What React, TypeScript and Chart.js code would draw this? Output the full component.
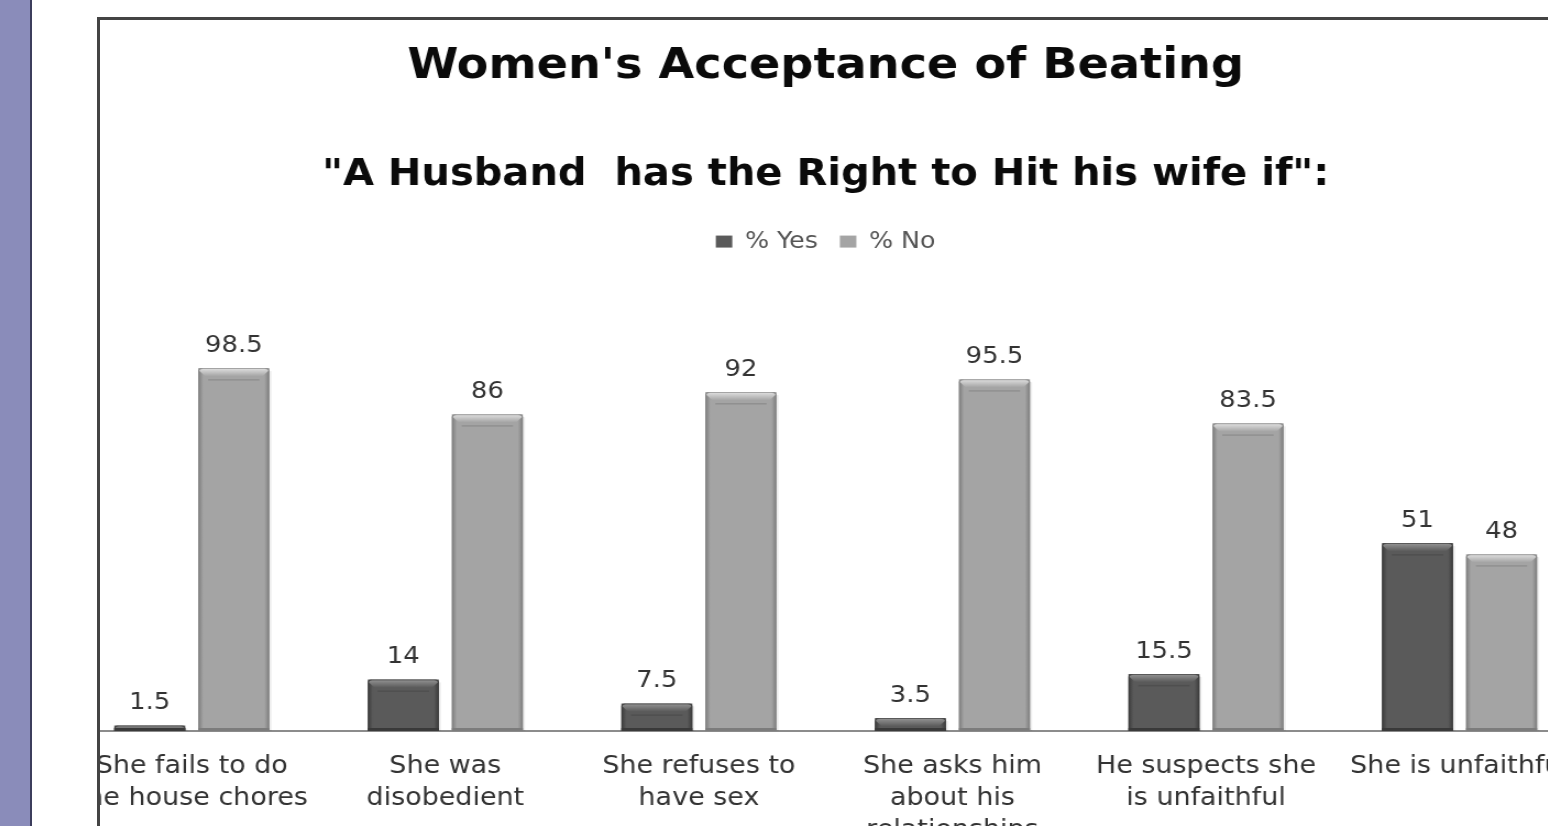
import React, { useEffect, useRef } from "react";
import { Chart, registerables } from "chart.js";

Chart.register(...registerables);

const categories: string[][] = [
  ["She fails to do", "the house chores"],
  ["She was", "disobedient"],
  ["She refuses to", "have sex"],
  ["She asks him", "about his", "relationships"],
  ["He suspects she", "is unfaithful"],
  ["She is unfaithful"],
];
const yesValues = [1.5, 14, 7.5, 3.5, 15.5, 51];
const noValues = [98.5, 86, 92, 95.5, 83.5, 48];
const seriesNames = ["% Yes", "% No"];
const titleText = "Women's Acceptance of Beating";
const subtitleText = "\"A Husband  has the Right to Hit his wife if\":";

const YES_COLOR = "#5a5a5a";
const NO_COLOR = "#a4a4a4";
const FONT = "'DejaVu Sans', Verdana, sans-serif";
const STRETCH = 1.1;
const CANVAS_W = Math.round(1521 / STRETCH);
const CANVAS_H = 847;

const bevelPlugin = {
  id: "bevel",
  afterDatasetsDraw(chart: any) {
    const ctx = chart.ctx as CanvasRenderingContext2D;
    chart.data.datasets.forEach((ds: any, di: number) => {
      const meta = chart.getDatasetMeta(di);
      const base = di === 0 ? YES_COLOR : NO_COLOR;
      const dark = di === 0 ? "#3a3a3a" : "#7c7c7c";
      const light = di === 0 ? "#969696" : "#e2e2e2";
      meta.data.forEach((bar: any) => {
        const { x, y, width, base: b } = bar.getProps(["x", "y", "width", "base"], true);
        const l = x - width / 2;
        const r = x + width / 2;
        const h = b - y;
        ctx.save();
        const g = ctx.createLinearGradient(l, 0, r, 0);
        g.addColorStop(0, dark);
        g.addColorStop(0.07, base);
        g.addColorStop(0.5, base);
        g.addColorStop(0.93, base);
        g.addColorStop(1, dark);
        ctx.fillStyle = g;
        ctx.beginPath();
        ctx.moveTo(l, b);
        ctx.lineTo(l, y + 3);
        ctx.quadraticCurveTo(l, y, l + 3, y);
        ctx.lineTo(r - 3, y);
        ctx.quadraticCurveTo(r, y, r, y + 3);
        ctx.lineTo(r, b);
        ctx.closePath();
        ctx.fill();
        // top cap highlight
        const capH = Math.min(11, h);
        const cg = ctx.createLinearGradient(0, y, 0, y + capH);
        cg.addColorStop(0, light);
        cg.addColorStop(0.75, base);
        cg.addColorStop(1, base);
        ctx.fillStyle = cg;
        ctx.beginPath();
        ctx.moveTo(l + 1, y + 3);
        ctx.quadraticCurveTo(l + 1, y + 1, l + 4, y + 1);
        ctx.lineTo(r - 4, y + 1);
        ctx.quadraticCurveTo(r - 1, y + 1, r - 1, y + 3);
        ctx.lineTo(r - 9, y + capH);
        ctx.lineTo(l + 9, y + capH);
        ctx.closePath();
        ctx.fill();
        // subtle shadow line under cap
        if (h > capH + 2) {
          ctx.fillStyle = "rgba(0,0,0,0.12)";
          ctx.fillRect(l + 9, y + capH, width - 18, 1.5);
        }
        // bottom edge
        ctx.fillStyle = dark;
        ctx.fillRect(l, b - Math.min(3, h), width, Math.min(3, h));
        // soft right shadow
        ctx.fillStyle = "rgba(0,0,0,0.07)";
        ctx.fillRect(r, y + 3, 2, h - 3);
        ctx.restore();
      });
    });
  },
};

const valueLabelPlugin = {
  id: "valueLabels",
  afterDatasetsDraw(chart: any) {
    const ctx = chart.ctx as CanvasRenderingContext2D;
    ctx.save();
    ctx.font = `23.5px ${FONT}`;
    ctx.fillStyle = "#333333";
    ctx.textAlign = "center";
    ctx.textBaseline = "alphabetic";
    chart.data.datasets.forEach((ds: any, di: number) => {
      const meta = chart.getDatasetMeta(di);
      meta.data.forEach((bar: any, i: number) => {
        ctx.fillText(String(ds.data[i]), bar.x, bar.y - 16);
      });
    });
    ctx.restore();
  },
};

export default function App() {
  const ref = useRef<HTMLCanvasElement | null>(null);
  useEffect(() => {
    if (!ref.current) return;
    const chart = new Chart(ref.current, {
      type: "bar",
      data: {
        labels: categories,
        datasets: [
          { label: seriesNames[0], data: yesValues, backgroundColor: YES_COLOR, borderWidth: 0 },
          { label: seriesNames[1], data: noValues, backgroundColor: NO_COLOR, borderWidth: 0 },
        ],
      },
      options: {
        responsive: false,
        animation: false,
        devicePixelRatio: 1,
        layout: { padding: 0 },
        categoryPercentage: 0.663,
        barPercentage: 0.845,
        plugins: {
          title: {
            display: true,
            text: titleText,
            color: "#0a0a0a",
            font: { family: FONT, size: 42, weight: "bold" },
            padding: { top: 22, bottom: 61 },
          },
          subtitle: {
            display: true,
            text: subtitleText,
            color: "#0a0a0a",
            font: { family: FONT, size: 36.4, weight: "bold" },
            padding: { top: 0, bottom: 13 },
          },
          legend: {
            display: true,
            position: "top",
            labels: {
              color: "#555555",
              font: { family: FONT, size: 23 },
              boxWidth: 15,
              boxHeight: 12,
              padding: 20,
            },
          },
          tooltip: { enabled: false },
        },
        scales: {
          x: {
            grid: { display: false, drawTicks: false },
            border: { display: true, color: "#8c8c8c", width: 2 },
            afterFit: (scale: any) => {
              scale.paddingLeft = 0;
              scale.paddingRight = 0;
            },
            ticks: {
              color: "#333333",
              font: { family: FONT, size: 24.5, lineHeight: 1.306 },
              padding: 20,
              maxRotation: 0,
              minRotation: 0,
              autoSkip: false,
            },
          },
          y: {
            display: false,
            min: 0,
            max: 127,
          },
        },
      },
      plugins: [bevelPlugin, valueLabelPlugin],
    });
    return () => chart.destroy();
  }, []);

  return (
    <div
      style={{
        position: "absolute",
        left: 0,
        top: 0,
        width: 1548,
        height: 826,
        overflow: "hidden",
        background: "#ffffff",
      }}
    >
      <div
        style={{
          position: "absolute",
          left: 0,
          top: 0,
          width: 30,
          height: 826,
          background: "#8a8cba",
          borderRight: "2px solid #3c3d5c",
        }}
      />
      <div
        style={{
          position: "absolute",
          left: 97,
          top: 17,
          width: 1600,
          height: 900,
          borderLeft: "3px solid #444444",
          borderTop: "3px solid #444444",
          overflow: "hidden",
          background: "#ffffff",
        }}
      >
        <canvas
          ref={ref}
          width={CANVAS_W}
          height={CANVAS_H}
          style={{
            position: "absolute",
            left: -35,
            top: 0,
            width: CANVAS_W,
            height: CANVAS_H,
            transform: `scaleX(${STRETCH})`,
            transformOrigin: "0 0",
          }}
        />
      </div>
    </div>
  );
}
